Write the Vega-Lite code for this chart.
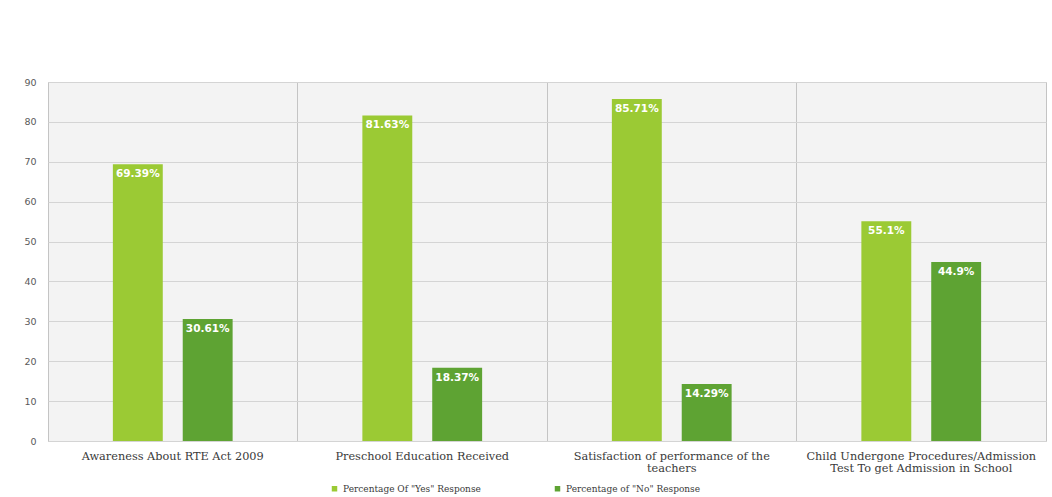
{
  "$schema": "https://vega.github.io/schema/vega-lite/v6.json",
  "width": 998,
  "height": 359,
  "autosize": {"type": "none"},
  "padding": {"left": 48, "top": 82, "right": 6, "bottom": 56},
  "background": "#ffffff",
  "data": {
    "values": [
      {"category": "Awareness About RTE Act 2009", "series": "Percentage Of \"Yes\" Response", "value": 69.39, "label": "69.39%"},
      {"category": "Awareness About RTE Act 2009", "series": "Percentage of \"No\" Response", "value": 30.61, "label": "30.61%"},
      {"category": "Preschool Education Received", "series": "Percentage Of \"Yes\" Response", "value": 81.63, "label": "81.63%"},
      {"category": "Preschool Education Received", "series": "Percentage of \"No\" Response", "value": 18.37, "label": "18.37%"},
      {"category": "Satisfaction of performance of the teachers", "series": "Percentage Of \"Yes\" Response", "value": 85.71, "label": "85.71%"},
      {"category": "Satisfaction of performance of the teachers", "series": "Percentage of \"No\" Response", "value": 14.29, "label": "14.29%"},
      {"category": "Child Undergone Procedures/Admission Test To get Admission in School", "series": "Percentage Of \"Yes\" Response", "value": 55.1, "label": "55.1%"},
      {"category": "Child Undergone Procedures/Admission Test To get Admission in School", "series": "Percentage of \"No\" Response", "value": 44.9, "label": "44.9%"}
    ]
  },
  "encoding": {
    "x": {
      "field": "category",
      "type": "nominal",
      "sort": null,
      "scale": {"paddingInner": 0, "paddingOuter": 0},
      "axis": {
        "title": null,
        "labelAngle": 0,
        "bandPosition": 0,
        "grid": true,
        "gridColor": "#c4c4c4",
        "gridWidth": 1,
        "ticks": false,
        "domain": false,
        "labelPadding": 9,
        "labelFont": "DejaVu Serif",
        "labelFontSize": 11.3,
        "labelColor": "#3a3a3a",
        "labelLineHeight": 12,
        "labelLimit": 300,
        "labelExpr": "datum.label == 'Satisfaction of performance of the teachers' ? ['Satisfaction of performance of the', 'teachers'] : datum.label == 'Child Undergone Procedures/Admission Test To get Admission in School' ? ['Child Undergone Procedures/Admission', 'Test To get Admission in School'] : datum.label"
      }
    },
    "xOffset": {
      "field": "series",
      "type": "nominal",
      "sort": null,
      "scale": {"paddingInner": 0.2857, "paddingOuter": 0.9286}
    },
    "y": {
      "field": "value",
      "type": "quantitative",
      "scale": {"domain": [0, 90], "nice": false},
      "axis": {
        "title": null,
        "values": [0, 10, 20, 30, 40, 50, 60, 70, 80, 90],
        "grid": true,
        "gridColor": "#d4d4d4",
        "ticks": false,
        "domain": false,
        "labelPadding": 12,
        "labelFont": "DejaVu Sans",
        "labelFontSize": 9.5,
        "labelColor": "#595959"
      }
    }
  },
  "layer": [
    {
      "mark": {"type": "bar"},
      "encoding": {
        "color": {
          "field": "series",
          "type": "nominal",
          "sort": null,
          "scale": {"range": ["#9bca34", "#5ea333"]},
          "legend": {
            "title": null,
            "orient": "none",
            "legendX": 282,
            "legendY": 402,
            "direction": "horizontal",
            "symbolType": "square",
            "symbolSize": 30,
            "symbolStrokeWidth": 0,
            "labelFont": "DejaVu Serif",
            "labelFontSize": 9,
            "labelColor": "#3a3a3a",
            "columnPadding": 72,
            "labelOffset": 4
          }
        }
      }
    },
    {
      "mark": {"type": "text", "baseline": "top", "dy": 5, "color": "#ffffff", "font": "DejaVu Sans", "fontWeight": "bold", "fontSize": 10.5},
      "encoding": {
        "text": {"field": "label", "type": "nominal"}
      }
    }
  ],
  "config": {
    "view": {"fill": "#f3f3f3", "stroke": "#c4c4c4", "strokeWidth": 1}
  }
}
